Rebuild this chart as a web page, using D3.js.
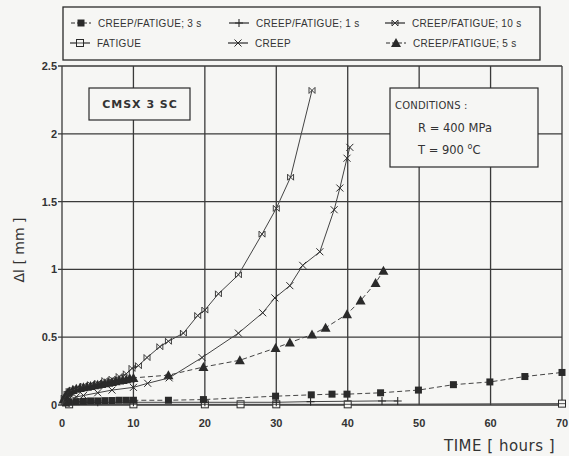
<!DOCTYPE html>
<html>
<head>
<meta charset="utf-8">
<script src="https://cdn.jsdelivr.net/npm/d3@7"></script>
<style>
  body { margin: 0; background: #f6f6f4; }
  svg { display: block; }
</style>
</head>
<body>
<script>
// time axis ticks and displacement ticks
const xTicks = [0, 10, 20, 30, 40, 50, 60, 70];
const yTicks = [0, 0.5, 1, 1.5, 2, 2.5];

// CREEP
const creepT = [0, 0.5, 1, 2, 3, 5, 7, 10, 12, 15, 19.6, 24.7, 28.1, 29.8, 31.9, 33.7, 36.1, 38.1, 38.9, 39.9, 40.3];
const creepV = [0, 0.03, 0.045, 0.06, 0.07, 0.09, 0.11, 0.13, 0.16, 0.2, 0.35, 0.53, 0.68, 0.79, 0.88, 1.03, 1.13, 1.44, 1.6, 1.82, 1.9];
// CREEP/FATIGUE 10 s
const cf10T = [0, 0.3, 0.7, 1, 1.5, 2, 3, 4, 5, 6, 7, 8, 9, 9.8, 10.7, 11.9, 13.7, 14.9, 17, 19, 20, 21.9, 24.7, 28, 30, 32, 35];
const cf10V = [0, 0.05, 0.08, 0.1, 0.11, 0.12, 0.14, 0.15, 0.16, 0.18, 0.19, 0.21, 0.23, 0.27, 0.29, 0.35, 0.43, 0.47, 0.53, 0.66, 0.7, 0.82, 0.96, 1.26, 1.45, 1.68, 2.32];
// CREEP/FATIGUE 5 s
const cf5T = [0, 0.2, 0.5, 0.8, 1, 1.5, 2, 2.5, 3, 3.5, 4, 4.5, 5, 5.5, 6, 6.5, 7, 7.5, 8, 8.5, 9, 9.5, 10, 14.9, 19.8, 24.9, 29.9, 31.9, 35, 36.9, 39.9, 41.8, 43.9, 45];
const cf5V = [0, 0.04, 0.07, 0.09, 0.1, 0.11, 0.12, 0.125, 0.13, 0.135, 0.14, 0.145, 0.15, 0.155, 0.16, 0.165, 0.17, 0.175, 0.18, 0.185, 0.19, 0.195, 0.2, 0.22, 0.28, 0.33, 0.42, 0.46, 0.52, 0.57, 0.67, 0.77, 0.9, 0.99];
// CREEP/FATIGUE 3 s
const cf3T = [0, 0.5, 1, 2, 3, 4, 5, 6, 7, 8, 9, 10, 14.9, 19.8, 29.9, 34.9, 37.8, 39.9, 44.6, 49.9, 54.8, 59.9, 64.8, 70];
const cf3V = [0, 0.015, 0.02, 0.025, 0.027, 0.03, 0.03, 0.032, 0.033, 0.035, 0.035, 0.035, 0.035, 0.04, 0.065, 0.075, 0.08, 0.08, 0.09, 0.11, 0.15, 0.17, 0.21, 0.24];
// CREEP/FATIGUE 1 s
const cf1T = [0, 1, 5, 10, 20, 30, 34.8, 44.8, 47];
const cf1V = [0, 0.015, 0.02, 0.02, 0.02, 0.02, 0.025, 0.03, 0.03];
// FATIGUE
const fatT = [0, 1, 10, 20, 25, 30, 40, 70];
const fatV = [0, 0.005, 0.005, 0.005, 0.005, 0.005, 0.005, 0.01];

const W = 569, H = 456;
const ink = "#2a2a2a";
const paper = "#f6f6f4";

const svg = d3.select("body").append("svg")
  .attr("width", W).attr("height", H);

const x = d3.scaleLinear().domain([0, 70]).range([62, 562]);
const y = d3.scaleLinear().domain([0, 2.5]).range([405, 66]);

// grid
const g = svg.append("g");
g.selectAll(".vg").data(xTicks).join("line")
  .attr("x1", d => x(d)).attr("x2", d => x(d))
  .attr("y1", y(0)).attr("y2", y(2.5))
  .attr("stroke", "#3a3a3a").attr("stroke-width", 1.3);
g.selectAll(".hg").data(yTicks).join("line")
  .attr("x1", x(0) - 4).attr("x2", x(70))
  .attr("y1", d => y(d)).attr("y2", d => y(d))
  .attr("stroke", "#3a3a3a").attr("stroke-width", 1.3);

// tick labels
g.selectAll(".yl").data(yTicks).join("text")
  .attr("x", x(0) - 5).attr("y", d => y(d) + 4)
  .attr("text-anchor", "end")
  .attr("font-family", "Liberation Sans, Arial, sans-serif")
  .attr("font-weight", "bold").attr("font-size", 11).attr("fill", "#333")
  .text(d => d);
g.selectAll(".xl").data(xTicks).join("text")
  .attr("x", d => x(d)).attr("y", 427)
  .attr("text-anchor", "middle")
  .attr("font-family", "Liberation Sans, Arial, sans-serif")
  .attr("font-weight", "bold").attr("font-size", 11).attr("fill", "#333")
  .text(d => d);

// axis titles
svg.append("text")
  .attr("transform", "translate(24,250) rotate(-90)")
  .attr("text-anchor", "middle")
  .attr("font-family", "DejaVu Sans, sans-serif")
  .attr("font-size", 14).attr("fill", "#333")
  .text("Δl  [ mm ]");
svg.append("text")
  .attr("x", 444).attr("y", 451)
  .attr("font-family", "DejaVu Sans, sans-serif")
  .attr("font-size", 15).attr("letter-spacing", 0.5).attr("fill", "#333")
  .text("TIME  [ hours ]");

// markers
function marker(sel, type, s) {
  const h = s / 2;
  if (type === "fsq") {
    sel.append("rect").attr("x", -h).attr("y", -h).attr("width", s).attr("height", s)
      .attr("fill", ink);
  } else if (type === "osq") {
    sel.append("rect").attr("x", -h).attr("y", -h).attr("width", s).attr("height", s)
      .attr("fill", paper).attr("stroke", ink).attr("stroke-width", 1);
    sel.append("line").attr("x1", -h).attr("x2", h).attr("y1", 0).attr("y2", 0)
      .attr("stroke", ink).attr("stroke-width", 0.8);
  } else if (type === "tri") {
    sel.append("path").attr("d", `M0,${-h - 1}L${h + 1},${h}L${-h - 1},${h}Z`).attr("fill", ink);
  } else if (type === "plus") {
    sel.append("path").attr("d", `M${-h},0H${h}M0,${-h}V${h}`)
      .attr("stroke", ink).attr("stroke-width", 1.1);
  } else if (type === "x") {
    sel.append("path").attr("d", `M${-h},${-h}L${h},${h}M${-h},${h}L${h},${-h}`)
      .attr("stroke", ink).attr("stroke-width", 1);
  } else if (type === "xbar") {
    sel.append("path").attr("d", `M${-h},${-h}L${h},${h}M${-h},${h}L${h},${-h}M${-h},${-h}V${h}M${h},${-h}V${h}`)
      .attr("stroke", ink).attr("stroke-width", 0.9);
  }
}

const series = [
  { name: "FATIGUE", t: fatT, v: fatV, m: "osq", s: 7, dash: null },
  { name: "CREEP/FATIGUE; 1 s", t: cf1T, v: cf1V, m: "plus", s: 8, dash: null },
  { name: "CREEP/FATIGUE; 3 s", t: cf3T, v: cf3V, m: "fsq", s: 7, dash: "5,3" },
  { name: "CREEP/FATIGUE; 5 s", t: cf5T, v: cf5V, m: "tri", s: 8, dash: "5,3" },
  { name: "CREEP", t: creepT, v: creepV, m: "x", s: 7, dash: null },
  { name: "CREEP/FATIGUE; 10 s", t: cf10T, v: cf10V, m: "xbar", s: 6, dash: null }
];

const line = d3.line().x(d => x(d[0])).y(d => y(d[1]));

series.forEach(sr => {
  const pts = sr.t.map((t, i) => [t, sr.v[i]]);
  svg.append("path").datum(pts)
    .attr("d", line).attr("fill", "none")
    .attr("stroke", "#444").attr("stroke-width", 1)
    .attr("stroke-dasharray", sr.dash);
  svg.append("g").selectAll("g").data(pts.slice(1)).join("g")
    .attr("transform", d => `translate(${x(d[0])},${y(d[1])})`)
    .each(function () { marker(d3.select(this), sr.m, sr.s); });
});

// legend box
const lg = svg.append("g");
lg.append("rect").attr("x", 63).attr("y", 7).attr("width", 477).attr("height", 53)
  .attr("fill", paper).attr("stroke", ink).attr("stroke-width", 1.3);

const legendItems = [
  { i: 2, cx: 81, ty: 23 }, { i: 1, cx: 239, ty: 23 }, { i: 5, cx: 395, ty: 23 },
  { i: 0, cx: 80, ty: 43 }, { i: 4, cx: 238, ty: 43 }, { i: 3, cx: 396, ty: 43 }
];
legendItems.forEach(it => {
  const sr = series[it.i];
  const gi = lg.append("g");
  gi.append("line").attr("x1", it.cx - 10).attr("x2", it.cx + 10)
    .attr("y1", it.ty).attr("y2", it.ty)
    .attr("stroke", ink).attr("stroke-width", 1.2)
    .attr("stroke-dasharray", sr.dash ? "4,2" : null);
  const mg = gi.append("g").attr("transform", `translate(${it.cx},${it.ty})`);
  marker(mg, sr.m, sr.s);
  gi.append("text").attr("x", it.cx + 17).attr("y", it.ty + 3.5)
    .attr("font-family", "Liberation Sans, Arial, sans-serif")
    .attr("font-size", 10).attr("letter-spacing", 0.3).attr("fill", "#333")
    .text(sr.name);
});

// sample box
svg.append("rect").attr("x", 89).attr("y", 88).attr("width", 101).attr("height", 32)
  .attr("fill", paper).attr("stroke", ink).attr("stroke-width", 1.2);
svg.append("text").attr("x", 140).attr("y", 108).attr("text-anchor", "middle")
  .attr("font-family", "DejaVu Sans, sans-serif")
  .attr("font-size", 11).attr("font-weight", "bold").attr("letter-spacing", 1).attr("fill", "#333")
  .text("CMSX  3  SC");

// conditions box
svg.append("rect").attr("x", 390).attr("y", 88).attr("width", 148).attr("height", 79)
  .attr("fill", paper).attr("stroke", ink).attr("stroke-width", 1.2);
const cond = svg.append("g")
  .attr("font-family", "DejaVu Sans, sans-serif")
  .attr("fill", "#333");
cond.append("text").attr("x", 395).attr("y", 109).attr("font-size", 10).attr("letter-spacing", 0.2).text("CONDITIONS :");
cond.append("text").attr("x", 418).attr("y", 132).attr("font-size", 11.5).text("R = 400 MPa");
const tt = cond.append("text").attr("x", 418).attr("y", 154).attr("font-size", 11.5);
tt.append("tspan").text("T = 900 ");
tt.append("tspan").attr("dy", -5).attr("font-size", 8).text("o");
tt.append("tspan").attr("dy", 5).text("C");
</script>
</body>
</html>
